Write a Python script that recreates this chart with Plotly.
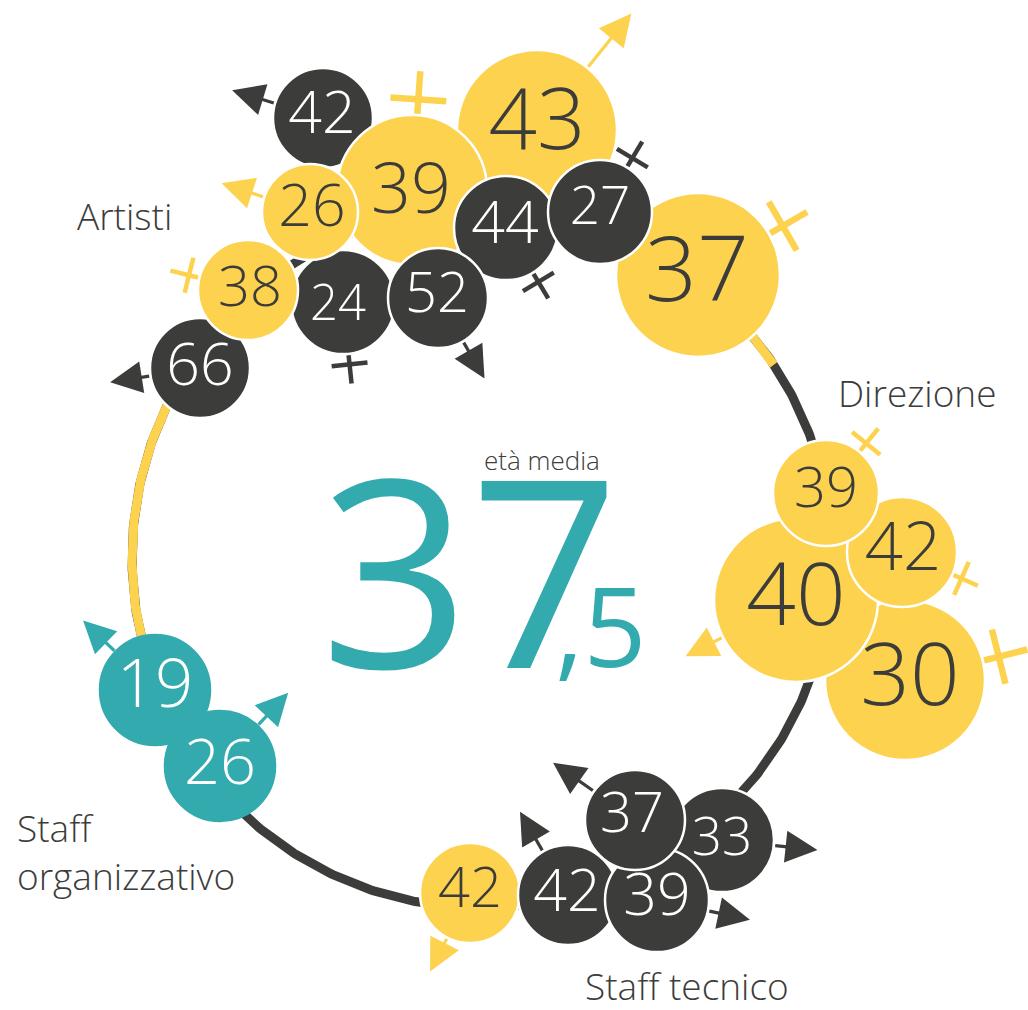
import math
import plotly.graph_objects as go

# ---------------- data ----------------
groups = ["Artisti"] * 11 + ["Direzione"] * 4 + ["Staff tecnico"] * 5 + ["Staff organizzativo"] * 2
ages = [37, 43, 42, 39, 24, 66, 26, 38, 44, 52, 27,
        30, 40, 42, 39,
        42, 33, 42, 39, 37,
        19, 26]
genders = ["F", "M", "M", "F", "F", "M", "M", "F", "F", "M", "F",
           "F", "M", "F", "F",
           "M", "M", "M", "M", "M",
           "M", "M"]
tones = ["y", "y", "d", "y", "d", "d", "y", "y", "d", "d", "d",
         "y", "y", "y", "y",
         "y", "d", "d", "d", "d",
         "t", "t"]
average_age_int = "37"
average_age_dec = ",5"
average_label = "età media"
group_labels = ["Artisti", "Direzione", "Staff tecnico", "Staff<br>organizzativo"]

# ---------------- layout (pixel space) ----------------
bx = [698, 537, 323, 412, 343, 200, 310, 248, 506, 438, 600,
      905, 796, 902, 826,
      470, 722, 568, 657, 635,
      155, 220]
by = [275, 130, 118, 190, 302, 368, 212, 290, 228, 298, 212,
      680, 600, 552, 493,
      893, 840, 895, 900, 820,
      690, 766]
br = [82, 80, 50, 75, 52, 50, 48, 50, 52, 50, 52,
      80, 82, 55, 53,
      50, 52, 50, 52, 50,
      55, 55]
tx = [697, 537, 322, 411, 338, 200, 312, 250, 505, 437, 600,
      910, 796, 903, 826,
      470, 722, 567, 657, 632,
      155, 220]
ty = [278, 128, 118, 195, 308, 370, 211, 292, 228, 298, 211,
      683, 603, 553, 493,
      893, 842, 896, 900, 818,
      690, 768]
fsize = [91, 85, 59, 70, 49, 59, 59, 56, 59, 56, 53,
         87, 87, 67, 56,
         56, 53, 59, 59, 56,
         67, 63]
sym_ang = [30, 51, 163, 86, -84, 189, 162, 166, -59, -60, 59,
           14, 207, -24, 51,
           243, -6, 120, -12, 145,
           136, 47]
sym_ext = [44, 70, 45, 44, 30, 41, 45, 30, 30, 43, 30,
           46, 42, 28, 30,
           38, 44, 46, 43, 50,
           45, 45]

label_x = [75, 836, 583, 15]
label_y = [215, 392, 985, 851]

RING_CX, RING_CY, RING_R = 482, 558, 350
ring_yellow_spans = [(140, 200), (33.5, 45)]

W, H = 1028, 1010
COL = {"y": "#FDD24F", "d": "#3C3C3A", "t": "#33ABAE"}
TEXT_COL = {"y": "#3C3C3A", "d": "#FFFFFF", "t": "#FFFFFF"}
FONT = "Open Sans"

fig = go.Figure()


def pt(cx, cy, d, ang):
    a = math.radians(ang)
    return cx + d * math.cos(a), cy - d * math.sin(a)


def arc(a0, a1, n=200):
    xs, ys = [], []
    for i in range(n + 1):
        a = a0 + (a1 - a0) * i / n
        x, y = pt(RING_CX, RING_CY, RING_R, a)
        xs.append(x)
        ys.append(y)
    return xs, ys


# ring
xs, ys = arc(0, 360, 720)
fig.add_trace(go.Scatter(x=xs, y=ys, mode="lines", line=dict(color=COL["d"], width=9),
                         hoverinfo="skip", showlegend=False))
for a0, a1 in ring_yellow_spans:
    xs, ys = arc(a0, a1)
    fig.add_trace(go.Scatter(x=xs, y=ys, mode="lines", line=dict(color=COL["y"], width=9),
                             hoverinfo="skip", showlegend=False))

# bubbles
fig.add_trace(go.Scatter(
    x=bx, y=by, mode="markers",
    marker=dict(size=[2 * r for r in br], color=[COL[t] for t in tones],
                line=dict(color=["#FFFFFF" if t != "t" else COL["t"] for t in tones], width=2.5),
                opacity=1),
    text=[f"{g}: {a}" for g, a in zip(groups, ages)], hoverinfo="text", showlegend=False))

# gender symbols
heads_x, heads_y, heads_a, heads_c = [], [], [], []
for i in range(len(ages)):
    cx, cy, r, ang, ext, c = bx[i], by[i], br[i], sym_ang[i], sym_ext[i], COL[tones[i]]
    big = r >= 70
    if genders[i] == "M":
        x0, y0 = pt(cx, cy, r + 1.5, ang)
        x1, y1 = pt(cx, cy, r + ext - 16, ang)
        fig.add_trace(go.Scatter(x=[x0, x1], y=[y0, y1], mode="lines",
                                 line=dict(color=c, width=3.2), hoverinfo="skip", showlegend=False))
        hx, hy = pt(cx, cy, r + ext, ang)
        heads_x.append(hx)
        heads_y.append(hy)
        heads_a.append(90 - ang)
        heads_c.append(c)
    else:
        lw = 6.5 if big else 4.5
        hw = 28 if big else 18
        x0, y0 = pt(cx, cy, r + 1.5, ang)
        x1, y1 = pt(cx, cy, r + ext, ang)
        mx, my = pt(cx, cy, r + ext * 0.36, ang)
        px, py = pt(mx, my, hw, ang + 90)
        qx, qy = pt(mx, my, hw, ang - 90)
        fig.add_trace(go.Scatter(x=[x0, x1, None, px, qx], y=[y0, y1, None, py, qy], mode="lines",
                                 line=dict(color=c, width=lw), hoverinfo="skip", showlegend=False))

fig.add_trace(go.Scatter(x=heads_x, y=heads_y, mode="markers",
                         marker=dict(symbol="arrow-up", size=32, angle=heads_a, color=heads_c,
                                     line=dict(width=0)),
                         hoverinfo="skip", showlegend=False))

# numbers
fig.add_trace(go.Scatter(x=tx, y=ty, mode="text", text=[str(a) for a in ages],
                         textposition="middle center",
                         textfont=dict(family=FONT, size=fsize, color=[TEXT_COL[t] for t in tones],
                                       weight=300),
                         hoverinfo="skip", showlegend=False))

annotations = []
for lab, lx, ly in zip(group_labels, label_x, label_y):
    annotations.append(dict(x=lx, y=ly, text=lab, showarrow=False, xanchor="left", yanchor="middle",
                            align="left", font=dict(family=FONT, size=37, color="#3C3C3A", weight=300)))
annotations.append(dict(x=542, y=460, text=average_label, showarrow=False, xanchor="center",
                        yanchor="middle", font=dict(family=FONT, size=26, color="#3C3C3A", weight=300)))
annotations.append(dict(x=470, y=566, text=average_age_int, showarrow=False, xanchor="center",
                        yanchor="middle", font=dict(family=FONT, size=262, color=COL["t"], weight=400)))
annotations.append(dict(x=553, y=624, text=average_age_dec, showarrow=False, xanchor="left",
                        yanchor="middle", font=dict(family=FONT, size=110, color=COL["t"], weight=400)))

fig.update_layout(
    width=W, height=H, margin=dict(l=0, r=0, t=0, b=0),
    paper_bgcolor="white", plot_bgcolor="white",
    xaxis=dict(range=[0, W], visible=False, fixedrange=True),
    yaxis=dict(range=[H, 0], visible=False, fixedrange=True),
    annotations=annotations, showlegend=False,
)

fig.write_html("out.html", config={"displayModeBar": False},
               post_script="document.body.style.margin='0';")
